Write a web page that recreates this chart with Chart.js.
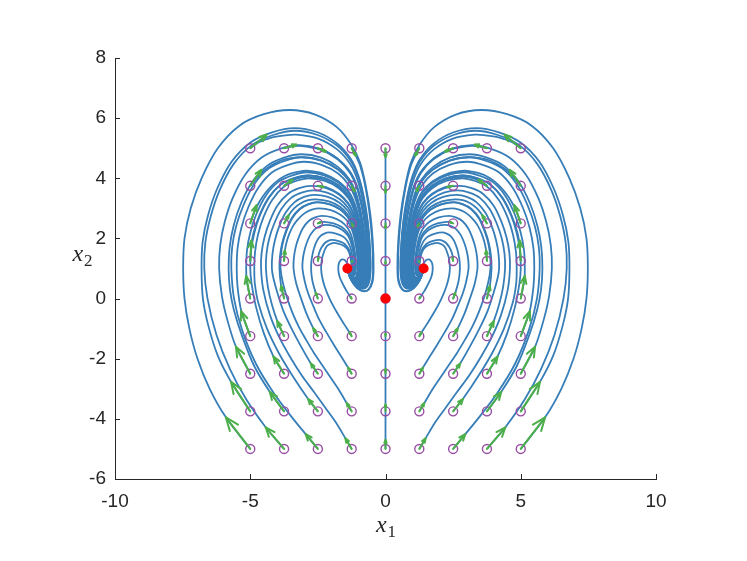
<!DOCTYPE html>
<html>
<head>
<meta charset="utf-8">
<title>Phase portrait</title>
<script src="https://cdn.jsdelivr.net/npm/chart.js@4.4.1/dist/chart.umd.min.js"></script>
<style>
  html, body { margin: 0; padding: 0; background: #fff; }
  #box { width: 747px; height: 561px; }
</style>
</head>
<body>
<div id="box"><canvas id="phase" width="747" height="561"></canvas></div>
<script>
// grid of starting states (purple circles)
const startX = [-5, -3.75, -2.5, -1.25, 0, 1.25, 2.5, 3.75, 5];
const startY = [-5, -3.75, -2.5, -1.25, 0, 1.25, 2.5, 3.75, 5];

// quiver arrows: x and y length at each start, one row per startY value
const arrowU = [
  [-0.9, -0.68, -0.45, -0.23, 0, 0.23, 0.45, 0.68, 0.9],
  [-0.71, -0.53, -0.36, -0.18, 0, 0.18, 0.36, 0.53, 0.71],
  [-0.53, -0.39, -0.26, -0.13, 0, 0.13, 0.26, 0.39, 0.53],
  [-0.34, -0.25, -0.17, -0.08, 0, 0.08, 0.17, 0.25, 0.34],
  [-0.15, -0.11, -0.08, -0.04, 0, 0.04, 0.08, 0.11, 0.15],
  [0.04, 0.03, 0.02, 0.01, 0, -0.01, -0.02, -0.03, -0.04],
  [0.23, 0.17, 0.11, 0.06, 0, -0.06, -0.11, -0.17, -0.23],
  [0.41, 0.31, 0.21, 0.1, 0, -0.1, -0.21, -0.31, -0.41],
  [0.6, 0.45, 0.3, 0.15, 0, -0.15, -0.3, -0.45, -0.6]
];
const arrowV = [
  [1.05, 0.72, 0.49, 0.35, 0.3, 0.35, 0.49, 0.72, 1.05],
  [0.98, 0.65, 0.41, 0.27, 0.23, 0.27, 0.41, 0.65, 0.98],
  [0.9, 0.57, 0.34, 0.2, 0.15, 0.2, 0.34, 0.57, 0.9],
  [0.83, 0.5, 0.26, 0.12, 0.08, 0.12, 0.26, 0.5, 0.83],
  [0.75, 0.42, 0.19, 0.05, 0, 0.05, 0.19, 0.42, 0.75],
  [0.68, 0.35, 0.11, -0.03, -0.08, -0.03, 0.11, 0.35, 0.68],
  [0.6, 0.27, 0.04, -0.1, -0.15, -0.1, 0.04, 0.27, 0.6],
  [0.53, 0.2, -0.04, -0.18, -0.23, -0.18, -0.04, 0.2, 0.53],
  [0.45, 0.12, -0.11, -0.25, -0.3, -0.25, -0.11, 0.12, 0.45]
];

// equilibrium points (red)
const equilibria = [[0, 0], [-1.41, 1], [1.41, 1]];

const xTicks = [-10, -5, 0, 5, 10];
const yTicks = [-6, -4, -2, 0, 2, 4, 6, 8];

// trajectories, flat lists x0,y0,x1,y1,...
const leftPaths = [
  [-5,-5, -5.9,-3.95, -6.5,-3, -6.95,-2, -7.25,-1, -7.43,0, -7.48,1, -7.43,2, -7.2,3, -6.8,4, -6.2,5, -5.4,5.75, -4.5,6.13, -3.54,6.27, -2.6,6.12, -1.8,5.7, -1.25,5.1, -0.93,4.5, -0.72,3.7, -0.56,2.8, -0.47,1.9, -0.44,1, -0.48,0.55, -0.62,0.3, -0.8,0.24, -1.05,0.35, -1.27,0.62, -1.41,1],
  [-5,-3.75, -5.71,-2.77, -6.2,-1.9, -6.55,-0.9, -6.75,0, -6.8,1, -6.76,1.89, -6.56,2.77, -6.22,3.66, -5.69,4.55, -4.98,5.2, -4.19,5.53, -3.37,5.67, -2.52,5.53, -1.79,5.16, -1.28,4.64, -1.0,4.08, -0.8,3.38, -0.66,2.59, -0.58,1.79, -0.55,1, -0.59,0.6, -0.7,0.38, -0.87,0.33, -1.09,0.42, -1.29,0.66, -1.41,1],
  [-3.75,-5, -4.43,-4.28, -5.15,-3.35, -5.75,-2.35, -6.25,-1.2, -6.58,0, -6.7,1, -6.66,1.87, -6.46,2.74, -6.13,3.61, -5.61,4.48, -4.92,5.12, -4.15,5.44, -3.34,5.58, -2.51,5.44, -1.78,5.08, -1.28,4.57, -1.0,4.02, -0.81,3.34, -0.67,2.56, -0.59,1.78, -0.56,1, -0.6,0.61, -0.71,0.39, -0.87,0.34, -1.1,0.43, -1.29,0.67, -1.41,1],
  [-5,-2.5, -5.53,-1.6, -5.85,-0.7, -6.05,0.1, -6.15,1, -6.11,1.78, -5.94,2.56, -5.65,3.34, -5.19,4.12, -4.58,4.69, -3.9,4.98, -3.19,5.1, -2.43,4.98, -1.77,4.65, -1.31,4.2, -1.06,3.71, -0.88,3.09, -0.75,2.39, -0.68,1.7, -0.65,1, -0.69,0.65, -0.79,0.45, -0.93,0.41, -1.13,0.49, -1.3,0.7, -1.41,1],
  [-3.75,-3.75, -4.28,-3.1, -4.85,-2.25, -5.3,-1.25, -5.6,-0.4, -5.75,0.3, -5.8,1, -5.76,1.72, -5.61,2.44, -5.34,3.17, -4.92,3.89, -4.37,4.42, -3.75,4.69, -3.1,4.8, -2.38,4.69, -1.76,4.38, -1.33,3.96, -1.09,3.51, -0.93,2.94, -0.81,2.29, -0.73,1.65, -0.71,1, -0.75,0.68, -0.84,0.5, -0.97,0.45, -1.15,0.53, -1.31,0.73, -1.41,1],
  [-2.5,-5, -2.95,-4.51, -3.45,-3.96, -4.14,-3.13, -4.8,-2.15, -5.3,-1.05, -5.6,0, -5.7,1, -5.67,1.7, -5.52,2.41, -5.25,3.11, -4.85,3.81, -4.31,4.33, -3.7,4.59, -3.07,4.7, -2.37,4.59, -1.75,4.29, -1.33,3.89, -1.1,3.44, -0.93,2.89, -0.81,2.26, -0.74,1.63, -0.72,1, -0.76,0.68, -0.84,0.5, -0.98,0.46, -1.15,0.54, -1.31,0.73, -1.41,1],
  [-5,-1.25, -5.33,-0.42, -5.47,0.4, -5.5,1, -5.47,1.67, -5.33,2.35, -5.08,3.02, -4.69,3.7, -4.19,4.2, -3.62,4.44, -3.02,4.55, -2.34,4.44, -1.75,4.16, -1.35,3.77, -1.12,3.34, -0.96,2.81, -0.85,2.21, -0.78,1.6, -0.76,1, -0.8,0.7, -0.88,0.53, -1.0,0.49, -1.17,0.56, -1.32,0.75, -1.41,1],
  [-5,0, -5.13,0.6, -5.15,1, -5.12,1.61, -4.99,2.22, -4.77,2.82, -4.42,3.43, -3.96,3.88, -3.44,4.1, -2.9,4.2, -2.27,4.1, -1.73,3.85, -1.35,3.5, -1.14,3.11, -0.98,2.63, -0.89,2.09, -0.83,1.54, -0.81,1, -0.85,0.72, -0.92,0.57, -1.03,0.53, -1.19,0.6, -1.33,0.77, -1.41,1],
  [-3.75,-2.5, -4.14,-1.93, -4.5,-1.15, -4.78,-0.3, -4.95,0.5, -5.0,1, -4.97,1.59, -4.85,2.18, -4.64,2.77, -4.3,3.36, -3.87,3.79, -3.37,4.01, -2.86,4.1, -2.25,4.01, -1.73,3.76, -1.37,3.42, -1.16,3.05, -1.02,2.58, -0.92,2.05, -0.86,1.53, -0.84,1, -0.88,0.74, -0.94,0.59, -1.05,0.56, -1.2,0.62, -1.33,0.78, -1.41,1],
  [-2.5,-3.75, -2.86,-3.34, -3.45,-2.55, -3.95,-1.8, -4.38,-1.0, -4.7,-0.15, -4.83,0.5, -4.85,1, -4.82,1.57, -4.71,2.14, -4.51,2.71, -4.19,3.28, -3.78,3.7, -3.31,3.91, -2.83,4.0, -2.24,3.91, -1.73,3.67, -1.37,3.34, -1.18,2.98, -1.04,2.53, -0.94,2.02, -0.88,1.51, -0.86,1, -0.9,0.75, -0.96,0.6, -1.06,0.57, -1.21,0.63, -1.33,0.79, -1.41,1],
  [-1.25,-5, -1.48,-4.65, -1.85,-4.1, -2.25,-3.6, -2.65,-3.1, -3.1,-2.55, -3.52,-1.95, -3.92,-1.3, -4.27,-0.55, -4.52,0.3, -4.6,1, -4.58,1.52, -4.47,2.05, -4.28,2.57, -4.0,3.09, -3.61,3.48, -3.19,3.67, -2.74,3.75, -2.19,3.67, -1.71,3.45, -1.38,3.15, -1.19,2.82, -1.07,2.4, -0.97,1.94, -0.92,1.47, -0.9,1, -0.94,0.77, -0.99,0.63, -1.09,0.6, -1.23,0.66, -1.35,0.8, -1.41,1],
  [-3.75,-1.25, -4.0,-0.75, -4.2,-0.2, -4.35,0.4, -4.42,1, -4.4,1.49, -4.3,1.99, -4.12,2.48, -3.85,2.98, -3.5,3.34, -3.1,3.52, -2.68,3.6, -2.16,3.52, -1.7,3.31, -1.39,3.03, -1.21,2.72, -1.09,2.33, -1.0,1.88, -0.95,1.44, -0.93,1, -0.97,0.78, -1.02,0.65, -1.11,0.63, -1.23,0.68, -1.35,0.81, -1.41,1],
  [-2.5,-2.5, -2.76,-2.16, -3.15,-1.55, -3.5,-0.95, -3.78,-0.4, -4.0,0.2, -4.15,0.7, -4.2,1, -4.18,1.47, -4.09,1.93, -3.93,2.4, -3.69,2.86, -3.37,3.2, -3.01,3.38, -2.63,3.45, -2.13,3.38, -1.69,3.18, -1.39,2.91, -1.23,2.62, -1.11,2.25, -1.03,1.83, -0.98,1.42, -0.96,1, -1.0,0.79, -1.04,0.68, -1.13,0.65, -1.24,0.7, -1.36,0.82, -1.41,1],
  [-3.75,0, -3.86,0.42, -3.92,1, -3.9,1.42, -3.82,1.84, -3.68,2.25, -3.47,2.67, -3.18,2.98, -2.86,3.13, -2.53,3.2, -2.07,3.13, -1.67,2.96, -1.4,2.72, -1.24,2.45, -1.14,2.12, -1.06,1.75, -1.02,1.37, -1.0,1, -1.04,0.81, -1.07,0.7, -1.15,0.68, -1.25,0.73, -1.36,0.84, -1.41,1],
  [-1.25,-3.75, -1.43,-3.48, -1.75,-3.0, -2.05,-2.6, -2.35,-2.2, -2.65,-1.8, -2.95,-1.35, -3.2,-0.95, -3.45,-0.45, -3.65,0.05, -3.8,0.55, -3.88,1, -3.87,1.42, -3.8,1.84, -3.66,2.25, -3.45,2.67, -3.16,2.98, -2.85,3.14, -2.53,3.21, -2.07,3.14, -1.68,2.97, -1.41,2.73, -1.25,2.46, -1.15,2.13, -1.07,1.76, -1.03,1.38, -1.01,1, -1.05,0.82, -1.08,0.71, -1.16,0.69, -1.26,0.74, -1.36,0.84, -1.41,1],
  [-2.5,-1.25, -2.67,-0.99, -2.92,-0.5, -3.12,0, -3.3,0.5, -3.4,1, -3.39,1.33, -3.33,1.67, -3.22,2.0, -3.06,2.33, -2.84,2.58, -2.6,2.7, -2.35,2.75, -1.97,2.7, -1.64,2.56, -1.42,2.37, -1.29,2.16, -1.2,1.89, -1.14,1.6, -1.1,1.3, -1.09,1, -1.12,0.85, -1.15,0.77, -1.21,0.75, -1.29,0.79, -1.37,0.88, -1.41,1],
  [-1.25,-2.5, -1.38,-2.3, -1.62,-1.95, -1.9,-1.55, -2.2,-1.1, -2.45,-0.7, -2.66,-0.27, -2.85,0.15, -2.98,0.55, -3.07,1, -3.06,1.28, -3.01,1.55, -2.92,1.83, -2.79,2.1, -2.61,2.31, -2.42,2.41, -2.21,2.45, -1.89,2.41, -1.61,2.29, -1.42,2.13, -1.31,1.96, -1.24,1.74, -1.18,1.49, -1.15,1.25, -1.14,1, -1.17,0.88, -1.19,0.81, -1.24,0.79, -1.31,0.82, -1.37,0.89, -1.41,1],
  [-2.5,0, -2.58,0.19, -2.68,0.5, -2.73,0.75, -2.75,1, -2.74,1.23, -2.7,1.46, -2.64,1.68, -2.54,1.91, -2.41,2.08, -2.26,2.16, -2.1,2.2, -1.83,2.16, -1.59,2.07, -1.43,1.94, -1.34,1.79, -1.27,1.61, -1.23,1.41, -1.2,1.2, -1.19,1, -1.21,0.9, -1.23,0.84, -1.27,0.83, -1.33,0.85, -1.38,0.91, -1.41,1],
  [-1.25,-1.25, -1.33,-1.13, -1.53,-0.85, -1.81,-0.44, -2.06,-0.02, -2.25,0.4, -2.35,0.75, -2.38,1, -2.37,1.16, -2.35,1.32, -2.3,1.48, -2.23,1.65, -2.14,1.77, -2.03,1.82, -1.92,1.85, -1.72,1.82, -1.55,1.76, -1.42,1.66, -1.36,1.56, -1.31,1.43, -1.28,1.29, -1.26,1.14, -1.25,1, -1.27,0.93, -1.3,0.89, -1.35,0.9, -1.39,0.94, -1.41,1],
  [-1.25,0, -1.31,0.08, -1.43,0.24, -1.53,0.4, -1.62,0.56, -1.69,0.71, -1.73,0.85, -1.745,1, -1.73,1.15, -1.68,1.25, -1.61,1.3, -1.52,1.29, -1.45,1.22, -1.4,1.12, -1.38,1.04, -1.41,1],
  [-5,1.25, -4.96,1.75, -4.88,2.18, -4.66,2.77, -4.32,3.36, -3.88,3.79, -3.38,4.01, -2.86,4.1, -2.25,4.01, -1.72,3.76, -1.36,3.42, -1.15,3.05, -1.01,2.58, -0.91,2.05, -0.85,1.53, -0.83,1, -0.87,0.73, -0.93,0.58, -1.04,0.55, -1.2,0.61, -1.33,0.77, -1.41,1],
  [-5,2.5, -4.85,2.88, -4.66,3.22, -4.45,3.5, -4.22,3.74, -3.98,3.93, -3.74,4.07, -3.45,4.17, -3.2,4.22, -2.92,4.25, -2.28,4.15, -1.73,3.89, -1.35,3.54, -1.14,3.15, -0.99,2.66, -0.88,2.1, -0.82,1.55, -0.8,1, -0.84,0.72, -0.91,0.56, -1.03,0.52, -1.18,0.59, -1.32,0.76, -1.41,1],
  [-5,3.75, -4.72,4.05, -4.43,4.3, -4.13,4.47, -3.84,4.6, -3.5,4.67, -3.07,4.7, -2.37,4.59, -1.75,4.29, -1.33,3.89, -1.1,3.44, -0.93,2.89, -0.81,2.26, -0.74,1.63, -0.72,1, -0.76,0.68, -0.84,0.5, -0.98,0.46, -1.15,0.54, -1.31,0.73, -1.41,1],
  [-5,5, -4.8,5.13, -4.6,5.23, -4.4,5.3, -4.1,5.38, -3.7,5.43, -3.3,5.45, -2.49,5.32, -1.79,4.96, -1.3,4.47, -1.03,3.94, -0.84,3.27, -0.71,2.51, -0.63,1.76, -0.6,1, -0.64,0.63, -0.75,0.42, -0.9,0.37, -1.11,0.46, -1.3,0.68, -1.41,1],
  [-3.75,1.25, -3.72,1.6, -3.65,1.9, -3.55,2.17, -3.42,2.41, -3.27,2.6, -3.1,2.76, -2.92,2.88, -2.72,2.96, -2.45,3.0, -2.02,2.94, -1.65,2.78, -1.39,2.56, -1.25,2.32, -1.15,2.02, -1.08,1.68, -1.03,1.34, -1.02,1, -1.06,0.82, -1.09,0.72, -1.16,0.7, -1.26,0.74, -1.36,0.85, -1.41,1],
  [-3.75,2.5, -3.58,2.77, -3.38,3.0, -3.13,3.17, -2.86,3.27, -2.57,3.3, -2.09,3.23, -1.68,3.05, -1.39,2.79, -1.23,2.52, -1.12,2.17, -1.04,1.78, -0.99,1.39, -0.98,1, -1.02,0.8, -1.06,0.69, -1.14,0.66, -1.25,0.71, -1.36,0.83, -1.41,1],
  [-3.75,3.75, -3.44,3.93, -3.14,4.02, -2.85,4.05, -2.25,3.96, -1.73,3.71, -1.37,3.38, -1.17,3.01, -1.03,2.56, -0.93,2.04, -0.87,1.52, -0.85,1, -0.89,0.74, -0.95,0.6, -1.06,0.56, -1.2,0.62, -1.33,0.78, -1.41,1],
  [-3.75,5, -3.45,5.06, -3.19,5.08, -2.43,4.96, -1.77,4.63, -1.31,4.18, -1.06,3.69, -0.88,3.08, -0.75,2.39, -0.68,1.69, -0.65,1, -0.69,0.65, -0.79,0.45, -0.93,0.41, -1.13,0.49, -1.3,0.7, -1.41,1],
  [-2.5,1.25, -2.48,1.42, -2.43,1.58, -2.35,1.72, -2.25,1.84, -2.12,1.92, -1.98,1.95, -1.76,1.92, -1.56,1.85, -1.43,1.74, -1.35,1.63, -1.3,1.48, -1.26,1.32, -1.24,1.16, -1.23,1, -1.25,0.91, -1.28,0.87, -1.33,0.87, -1.38,0.92, -1.41,1],
  [-2.5,2.5, -2.39,2.54, -2.26,2.55, -1.92,2.5, -1.62,2.38, -1.42,2.21, -1.3,2.02, -1.22,1.79, -1.17,1.53, -1.13,1.26, -1.12,1, -1.15,0.87, -1.17,0.79, -1.23,0.77, -1.3,0.81, -1.37,0.89, -1.41,1],
  [-2.5,3.75, -2.2,3.71, -1.72,3.49, -1.38,3.18, -1.2,2.85, -1.07,2.43, -0.97,1.95, -0.92,1.48, -0.9,1, -0.94,0.77, -0.99,0.63, -1.09,0.6, -1.23,0.66, -1.35,0.8, -1.41,1],
  [-2.5,5, -2.2,4.89, -1.77,4.65, -1.31,4.22, -1.05,3.74, -0.87,3.12, -0.74,2.41, -0.67,1.71, -0.64,1, -0.68,0.65, -0.78,0.45, -0.93,0.4, -1.13,0.48, -1.3,0.7, -1.41,1],
  [-1.25,1.25, -1.24,1.18, -1.26,1.08, -1.31,1.0, -1.37,0.97, -1.41,1],
  [-1.25,2.5, -1.19,2.4, -1.13,2.12, -1.06,1.75, -1.02,1.37, -1.0,1, -1.04,0.81, -1.07,0.7, -1.15,0.68, -1.25,0.73, -1.36,0.84, -1.41,1],
  [-1.25,3.75, -1.15,3.55, -1.0,3.1, -0.88,2.5, -0.79,1.9, -0.74,1.4, -0.72,1, -0.76,0.68, -0.84,0.5, -0.98,0.46, -1.15,0.54, -1.31,0.73, -1.41,1],
  [-1.25,5, -1.1,4.75, -0.93,4.4, -0.75,3.75, -0.6,2.9, -0.5,2.0, -0.46,1, -0.5,0.56, -0.63,0.31, -0.81,0.25, -1.05,0.36, -1.27,0.62, -1.41,1]
];

const rightPaths = [
  [5,-5, 5.9,-3.95, 6.5,-3, 6.95,-2, 7.25,-1, 7.43,0, 7.48,1, 7.43,2, 7.2,3, 6.8,4, 6.2,5, 5.4,5.75, 4.5,6.13, 3.54,6.27, 2.6,6.12, 1.8,5.7, 1.25,5.1, 0.93,4.5, 0.72,3.7, 0.56,2.8, 0.47,1.9, 0.44,1, 0.48,0.55, 0.62,0.3, 0.8,0.24, 1.05,0.35, 1.27,0.62, 1.41,1],
  [5,-3.75, 5.71,-2.77, 6.2,-1.9, 6.55,-0.9, 6.75,0, 6.8,1, 6.76,1.89, 6.56,2.77, 6.22,3.66, 5.69,4.55, 4.98,5.2, 4.19,5.53, 3.37,5.67, 2.52,5.53, 1.79,5.16, 1.28,4.64, 1.0,4.08, 0.8,3.38, 0.66,2.59, 0.58,1.79, 0.55,1, 0.59,0.6, 0.7,0.38, 0.87,0.33, 1.09,0.42, 1.29,0.66, 1.41,1],
  [3.75,-5, 4.43,-4.28, 5.15,-3.35, 5.75,-2.35, 6.25,-1.2, 6.58,0, 6.7,1, 6.66,1.87, 6.46,2.74, 6.13,3.61, 5.61,4.48, 4.92,5.12, 4.15,5.44, 3.34,5.58, 2.51,5.44, 1.78,5.08, 1.28,4.57, 1.0,4.02, 0.81,3.34, 0.67,2.56, 0.59,1.78, 0.56,1, 0.6,0.61, 0.71,0.39, 0.87,0.34, 1.1,0.43, 1.29,0.67, 1.41,1],
  [5,-2.5, 5.53,-1.6, 5.85,-0.7, 6.05,0.1, 6.15,1, 6.11,1.78, 5.94,2.56, 5.65,3.34, 5.19,4.12, 4.58,4.69, 3.9,4.98, 3.19,5.1, 2.43,4.98, 1.77,4.65, 1.31,4.2, 1.06,3.71, 0.88,3.09, 0.75,2.39, 0.68,1.7, 0.65,1, 0.69,0.65, 0.79,0.45, 0.93,0.41, 1.13,0.49, 1.3,0.7, 1.41,1],
  [3.75,-3.75, 4.28,-3.1, 4.85,-2.25, 5.3,-1.25, 5.6,-0.4, 5.75,0.3, 5.8,1, 5.76,1.72, 5.61,2.44, 5.34,3.17, 4.92,3.89, 4.37,4.42, 3.75,4.69, 3.1,4.8, 2.38,4.69, 1.76,4.38, 1.33,3.96, 1.09,3.51, 0.93,2.94, 0.81,2.29, 0.73,1.65, 0.71,1, 0.75,0.68, 0.84,0.5, 0.97,0.45, 1.15,0.53, 1.31,0.73, 1.41,1],
  [2.5,-5, 2.95,-4.51, 3.45,-3.96, 4.14,-3.13, 4.8,-2.15, 5.3,-1.05, 5.6,0, 5.7,1, 5.67,1.7, 5.52,2.41, 5.25,3.11, 4.85,3.81, 4.31,4.33, 3.7,4.59, 3.07,4.7, 2.37,4.59, 1.75,4.29, 1.33,3.89, 1.1,3.44, 0.93,2.89, 0.81,2.26, 0.74,1.63, 0.72,1, 0.76,0.68, 0.84,0.5, 0.98,0.46, 1.15,0.54, 1.31,0.73, 1.41,1],
  [5,-1.25, 5.33,-0.42, 5.47,0.4, 5.5,1, 5.47,1.67, 5.33,2.35, 5.08,3.02, 4.69,3.7, 4.19,4.2, 3.62,4.44, 3.02,4.55, 2.34,4.44, 1.75,4.16, 1.35,3.77, 1.12,3.34, 0.96,2.81, 0.85,2.21, 0.78,1.6, 0.76,1, 0.8,0.7, 0.88,0.53, 1.0,0.49, 1.17,0.56, 1.32,0.75, 1.41,1],
  [5,0, 5.13,0.6, 5.15,1, 5.12,1.61, 4.99,2.22, 4.77,2.82, 4.42,3.43, 3.96,3.88, 3.44,4.1, 2.9,4.2, 2.27,4.1, 1.73,3.85, 1.35,3.5, 1.14,3.11, 0.98,2.63, 0.89,2.09, 0.83,1.54, 0.81,1, 0.85,0.72, 0.92,0.57, 1.03,0.53, 1.19,0.6, 1.33,0.77, 1.41,1],
  [3.75,-2.5, 4.14,-1.93, 4.5,-1.15, 4.78,-0.3, 4.95,0.5, 5.0,1, 4.97,1.59, 4.85,2.18, 4.64,2.77, 4.3,3.36, 3.87,3.79, 3.37,4.01, 2.86,4.1, 2.25,4.01, 1.73,3.76, 1.37,3.42, 1.16,3.05, 1.02,2.58, 0.92,2.05, 0.86,1.53, 0.84,1, 0.88,0.74, 0.94,0.59, 1.05,0.56, 1.2,0.62, 1.33,0.78, 1.41,1],
  [2.5,-3.75, 2.86,-3.34, 3.45,-2.55, 3.95,-1.8, 4.38,-1.0, 4.7,-0.15, 4.83,0.5, 4.85,1, 4.82,1.57, 4.71,2.14, 4.51,2.71, 4.19,3.28, 3.78,3.7, 3.31,3.91, 2.83,4.0, 2.24,3.91, 1.73,3.67, 1.37,3.34, 1.18,2.98, 1.04,2.53, 0.94,2.02, 0.88,1.51, 0.86,1, 0.9,0.75, 0.96,0.6, 1.06,0.57, 1.21,0.63, 1.33,0.79, 1.41,1],
  [1.25,-5, 1.48,-4.65, 1.85,-4.1, 2.25,-3.6, 2.65,-3.1, 3.1,-2.55, 3.52,-1.95, 3.92,-1.3, 4.27,-0.55, 4.52,0.3, 4.6,1, 4.58,1.52, 4.47,2.05, 4.28,2.57, 4.0,3.09, 3.61,3.48, 3.19,3.67, 2.74,3.75, 2.19,3.67, 1.71,3.45, 1.38,3.15, 1.19,2.82, 1.07,2.4, 0.97,1.94, 0.92,1.47, 0.9,1, 0.94,0.77, 0.99,0.63, 1.09,0.6, 1.23,0.66, 1.35,0.8, 1.41,1],
  [3.75,-1.25, 4.0,-0.75, 4.2,-0.2, 4.35,0.4, 4.42,1, 4.4,1.49, 4.3,1.99, 4.12,2.48, 3.85,2.98, 3.5,3.34, 3.1,3.52, 2.68,3.6, 2.16,3.52, 1.7,3.31, 1.39,3.03, 1.21,2.72, 1.09,2.33, 1.0,1.88, 0.95,1.44, 0.93,1, 0.97,0.78, 1.02,0.65, 1.11,0.63, 1.23,0.68, 1.35,0.81, 1.41,1],
  [2.5,-2.5, 2.76,-2.16, 3.15,-1.55, 3.5,-0.95, 3.78,-0.4, 4.0,0.2, 4.15,0.7, 4.2,1, 4.18,1.47, 4.09,1.93, 3.93,2.4, 3.69,2.86, 3.37,3.2, 3.01,3.38, 2.63,3.45, 2.13,3.38, 1.69,3.18, 1.39,2.91, 1.23,2.62, 1.11,2.25, 1.03,1.83, 0.98,1.42, 0.96,1, 1.0,0.79, 1.04,0.68, 1.13,0.65, 1.24,0.7, 1.36,0.82, 1.41,1],
  [3.75,0, 3.86,0.42, 3.92,1, 3.9,1.42, 3.82,1.84, 3.68,2.25, 3.47,2.67, 3.18,2.98, 2.86,3.13, 2.53,3.2, 2.07,3.13, 1.67,2.96, 1.4,2.72, 1.24,2.45, 1.14,2.12, 1.06,1.75, 1.02,1.37, 1.0,1, 1.04,0.81, 1.07,0.7, 1.15,0.68, 1.25,0.73, 1.36,0.84, 1.41,1],
  [1.25,-3.75, 1.43,-3.48, 1.75,-3.0, 2.05,-2.6, 2.35,-2.2, 2.65,-1.8, 2.95,-1.35, 3.2,-0.95, 3.45,-0.45, 3.65,0.05, 3.8,0.55, 3.88,1, 3.87,1.42, 3.8,1.84, 3.66,2.25, 3.45,2.67, 3.16,2.98, 2.85,3.14, 2.53,3.21, 2.07,3.14, 1.68,2.97, 1.41,2.73, 1.25,2.46, 1.15,2.13, 1.07,1.76, 1.03,1.38, 1.01,1, 1.05,0.82, 1.08,0.71, 1.16,0.69, 1.26,0.74, 1.36,0.84, 1.41,1],
  [2.5,-1.25, 2.67,-0.99, 2.92,-0.5, 3.12,0, 3.3,0.5, 3.4,1, 3.39,1.33, 3.33,1.67, 3.22,2.0, 3.06,2.33, 2.84,2.58, 2.6,2.7, 2.35,2.75, 1.97,2.7, 1.64,2.56, 1.42,2.37, 1.29,2.16, 1.2,1.89, 1.14,1.6, 1.1,1.3, 1.09,1, 1.12,0.85, 1.15,0.77, 1.21,0.75, 1.29,0.79, 1.37,0.88, 1.41,1],
  [1.25,-2.5, 1.38,-2.3, 1.62,-1.95, 1.9,-1.55, 2.2,-1.1, 2.45,-0.7, 2.66,-0.27, 2.85,0.15, 2.98,0.55, 3.07,1, 3.06,1.28, 3.01,1.55, 2.92,1.83, 2.79,2.1, 2.61,2.31, 2.42,2.41, 2.21,2.45, 1.89,2.41, 1.61,2.29, 1.42,2.13, 1.31,1.96, 1.24,1.74, 1.18,1.49, 1.15,1.25, 1.14,1, 1.17,0.88, 1.19,0.81, 1.24,0.79, 1.31,0.82, 1.37,0.89, 1.41,1],
  [2.5,0, 2.58,0.19, 2.68,0.5, 2.73,0.75, 2.75,1, 2.74,1.23, 2.7,1.46, 2.64,1.68, 2.54,1.91, 2.41,2.08, 2.26,2.16, 2.1,2.2, 1.83,2.16, 1.59,2.07, 1.43,1.94, 1.34,1.79, 1.27,1.61, 1.23,1.41, 1.2,1.2, 1.19,1, 1.21,0.9, 1.23,0.84, 1.27,0.83, 1.33,0.85, 1.38,0.91, 1.41,1],
  [1.25,-1.25, 1.33,-1.13, 1.53,-0.85, 1.81,-0.44, 2.06,-0.02, 2.25,0.4, 2.35,0.75, 2.38,1, 2.37,1.16, 2.35,1.32, 2.3,1.48, 2.23,1.65, 2.14,1.77, 2.03,1.82, 1.92,1.85, 1.72,1.82, 1.55,1.76, 1.42,1.66, 1.36,1.56, 1.31,1.43, 1.28,1.29, 1.26,1.14, 1.25,1, 1.27,0.93, 1.3,0.89, 1.35,0.9, 1.39,0.94, 1.41,1],
  [1.25,0, 1.31,0.08, 1.43,0.24, 1.53,0.4, 1.62,0.56, 1.69,0.71, 1.73,0.85, 1.745,1, 1.73,1.15, 1.68,1.25, 1.61,1.3, 1.52,1.29, 1.45,1.22, 1.4,1.12, 1.38,1.04, 1.41,1],
  [5,1.25, 4.96,1.75, 4.88,2.18, 4.66,2.77, 4.32,3.36, 3.88,3.79, 3.38,4.01, 2.86,4.1, 2.25,4.01, 1.72,3.76, 1.36,3.42, 1.15,3.05, 1.01,2.58, 0.91,2.05, 0.85,1.53, 0.83,1, 0.87,0.73, 0.93,0.58, 1.04,0.55, 1.2,0.61, 1.33,0.77, 1.41,1],
  [5,2.5, 4.85,2.88, 4.66,3.22, 4.45,3.5, 4.22,3.74, 3.98,3.93, 3.74,4.07, 3.45,4.17, 3.2,4.22, 2.92,4.25, 2.28,4.15, 1.73,3.89, 1.35,3.54, 1.14,3.15, 0.99,2.66, 0.88,2.1, 0.82,1.55, 0.8,1, 0.84,0.72, 0.91,0.56, 1.03,0.52, 1.18,0.59, 1.32,0.76, 1.41,1],
  [5,3.75, 4.72,4.05, 4.43,4.3, 4.13,4.47, 3.84,4.6, 3.5,4.67, 3.07,4.7, 2.37,4.59, 1.75,4.29, 1.33,3.89, 1.1,3.44, 0.93,2.89, 0.81,2.26, 0.74,1.63, 0.72,1, 0.76,0.68, 0.84,0.5, 0.98,0.46, 1.15,0.54, 1.31,0.73, 1.41,1],
  [5,5, 4.8,5.13, 4.6,5.23, 4.4,5.3, 4.1,5.38, 3.7,5.43, 3.3,5.45, 2.49,5.32, 1.79,4.96, 1.3,4.47, 1.03,3.94, 0.84,3.27, 0.71,2.51, 0.63,1.76, 0.6,1, 0.64,0.63, 0.75,0.42, 0.9,0.37, 1.11,0.46, 1.3,0.68, 1.41,1],
  [3.75,1.25, 3.72,1.6, 3.65,1.9, 3.55,2.17, 3.42,2.41, 3.27,2.6, 3.1,2.76, 2.92,2.88, 2.72,2.96, 2.45,3.0, 2.02,2.94, 1.65,2.78, 1.39,2.56, 1.25,2.32, 1.15,2.02, 1.08,1.68, 1.03,1.34, 1.02,1, 1.06,0.82, 1.09,0.72, 1.16,0.7, 1.26,0.74, 1.36,0.85, 1.41,1],
  [3.75,2.5, 3.58,2.77, 3.38,3.0, 3.13,3.17, 2.86,3.27, 2.57,3.3, 2.09,3.23, 1.68,3.05, 1.39,2.79, 1.23,2.52, 1.12,2.17, 1.04,1.78, 0.99,1.39, 0.98,1, 1.02,0.8, 1.06,0.69, 1.14,0.66, 1.25,0.71, 1.36,0.83, 1.41,1],
  [3.75,3.75, 3.44,3.93, 3.14,4.02, 2.85,4.05, 2.25,3.96, 1.73,3.71, 1.37,3.38, 1.17,3.01, 1.03,2.56, 0.93,2.04, 0.87,1.52, 0.85,1, 0.89,0.74, 0.95,0.6, 1.06,0.56, 1.2,0.62, 1.33,0.78, 1.41,1],
  [3.75,5, 3.45,5.06, 3.19,5.08, 2.43,4.96, 1.77,4.63, 1.31,4.18, 1.06,3.69, 0.88,3.08, 0.75,2.39, 0.68,1.69, 0.65,1, 0.69,0.65, 0.79,0.45, 0.93,0.41, 1.13,0.49, 1.3,0.7, 1.41,1],
  [2.5,1.25, 2.48,1.42, 2.43,1.58, 2.35,1.72, 2.25,1.84, 2.12,1.92, 1.98,1.95, 1.76,1.92, 1.56,1.85, 1.43,1.74, 1.35,1.63, 1.3,1.48, 1.26,1.32, 1.24,1.16, 1.23,1, 1.25,0.91, 1.28,0.87, 1.33,0.87, 1.38,0.92, 1.41,1],
  [2.5,2.5, 2.39,2.54, 2.26,2.55, 1.92,2.5, 1.62,2.38, 1.42,2.21, 1.3,2.02, 1.22,1.79, 1.17,1.53, 1.13,1.26, 1.12,1, 1.15,0.87, 1.17,0.79, 1.23,0.77, 1.3,0.81, 1.37,0.89, 1.41,1],
  [2.5,3.75, 2.2,3.71, 1.72,3.49, 1.38,3.18, 1.2,2.85, 1.07,2.43, 0.97,1.95, 0.92,1.48, 0.9,1, 0.94,0.77, 0.99,0.63, 1.09,0.6, 1.23,0.66, 1.35,0.8, 1.41,1],
  [2.5,5, 2.2,4.89, 1.77,4.65, 1.31,4.22, 1.05,3.74, 0.87,3.12, 0.74,2.41, 0.67,1.71, 0.64,1, 0.68,0.65, 0.78,0.45, 0.93,0.4, 1.13,0.48, 1.3,0.7, 1.41,1],
  [1.25,1.25, 1.24,1.18, 1.26,1.08, 1.31,1.0, 1.37,0.97, 1.41,1],
  [1.25,2.5, 1.19,2.4, 1.13,2.12, 1.06,1.75, 1.02,1.37, 1.0,1, 1.04,0.81, 1.07,0.7, 1.15,0.68, 1.25,0.73, 1.36,0.84, 1.41,1],
  [1.25,3.75, 1.15,3.55, 1.0,3.1, 0.88,2.5, 0.79,1.9, 0.74,1.4, 0.72,1, 0.76,0.68, 0.84,0.5, 0.98,0.46, 1.15,0.54, 1.31,0.73, 1.41,1],
  [1.25,5, 1.1,4.75, 0.93,4.4, 0.75,3.75, 0.6,2.9, 0.5,2.0, 0.46,1, 0.5,0.56, 0.63,0.31, 0.81,0.25, 1.05,0.36, 1.27,0.62, 1.41,1]
];

// the x1 = 0 column stays on the axis
const centrePath = [0,-5, 0,5];

const blue = '#377eb8';
const green = '#4daf4a';
const purple = '#984ea3';
const red = '#ff0000';
const axisColor = '#262626';

function toPoints(flat) {
  const pts = [];
  for (let i = 0; i < flat.length; i += 2) {
    pts.push({ x: flat[i], y: flat[i + 1] });
  }
  return pts;
}

const starts = [];
startY.forEach(y => startX.forEach(x => starts.push({ x: x, y: y })));

const pathSets = leftPaths.concat(rightPaths, [centrePath]).map(p => ({
  label: 'path',
  data: toPoints(p),
  showLine: true,
  borderColor: blue,
  borderWidth: 1.8,
  pointRadius: 0,
  tension: 0.3,
  fill: false,
  order: 2
}));

// quiver arrows drawn right after the start circles
const quiverPlugin = {
  id: 'quiver',
  afterDatasetDraw(chart, args) {
    if (chart.data.datasets[args.index].label !== 'starts') return;
    const ctx = chart.ctx;
    const xs = chart.scales.x, ys = chart.scales.y;
    ctx.save();
    ctx.strokeStyle = green;
    ctx.fillStyle = green;
    ctx.lineWidth = 2;
    ctx.lineCap = 'round';
    ctx.lineJoin = 'round';
    startY.forEach((sy, r) => {
      startX.forEach((sx, c) => {
        const u = arrowU[r][c], v = arrowV[r][c];
        if (u === 0 && v === 0) return;
        const x0 = xs.getPixelForValue(sx), y0 = ys.getPixelForValue(sy);
        const x1 = xs.getPixelForValue(sx + u), y1 = ys.getPixelForValue(sy + v);
        const dx = x1 - x0, dy = y1 - y0;
        const len = Math.hypot(dx, dy);
        const ux = dx / len, uy = dy / len;
        const back = 0.33 * len, side = 0.13 * len;
        ctx.beginPath();
        ctx.moveTo(x0, y0);
        ctx.lineTo(x1, y1);
        ctx.stroke();
        ctx.beginPath();
        ctx.moveTo(x1 - back * ux + side * uy, y1 - back * uy - side * ux);
        ctx.lineTo(x1, y1);
        ctx.lineTo(x1 - back * ux - side * uy, y1 - back * uy + side * ux);
        ctx.stroke();
      });
    });
    ctx.restore();
  }
};

function subLabel(ctx, base, sub, cx, baseline) {
  ctx.font = 'italic 24px "Liberation Serif", "DejaVu Serif", serif';
  const wb = ctx.measureText(base).width;
  ctx.font = '17px "Liberation Serif", "DejaVu Serif", serif';
  const ws = ctx.measureText(sub).width;
  const left = cx - (wb + ws) / 2;
  ctx.textAlign = 'left';
  ctx.textBaseline = 'alphabetic';
  ctx.font = 'italic 24px "Liberation Serif", "DejaVu Serif", serif';
  ctx.fillText(base, left, baseline);
  ctx.font = '17px "Liberation Serif", "DejaVu Serif", serif';
  ctx.fillText(sub, left + wb + 1, baseline + 5);
}

// inward tick marks and the two axis titles
const axisPlugin = {
  id: 'axisExtras',
  afterDraw(chart) {
    const ctx = chart.ctx;
    const a = chart.chartArea;
    const xs = chart.scales.x, ys = chart.scales.y;
    ctx.save();
    ctx.strokeStyle = axisColor;
    ctx.lineWidth = 1;
    ctx.beginPath();
    xTicks.forEach(v => {
      const p = Math.round(xs.getPixelForValue(v)) + 0.5;
      ctx.moveTo(p, a.bottom);
      ctx.lineTo(p, a.bottom - 5);
    });
    yTicks.forEach(v => {
      const p = Math.round(ys.getPixelForValue(v)) + 0.5;
      ctx.moveTo(a.left, p);
      ctx.lineTo(a.left + 5, p);
    });
    ctx.stroke();
    ctx.fillStyle = axisColor;
    subLabel(ctx, 'x', '1', (a.left + a.right) / 2, a.bottom + 53);
    subLabel(ctx, 'x', '2', a.left - 33, (a.top + a.bottom) / 2 - 8);
    ctx.restore();
  }
};

const tickFont = { family: '"Liberation Sans", Arial, sans-serif', size: 19 };

new Chart(document.getElementById('phase'), {
  type: 'scatter',
  data: {
    datasets: [
      {
        label: 'equilibria',
        data: equilibria.map(p => ({ x: p[0], y: p[1] })),
        pointRadius: 5,
        pointBackgroundColor: red,
        pointBorderWidth: 0,
        order: 0
      },
      {
        label: 'starts',
        data: starts,
        pointRadius: 4.5,
        pointBorderColor: purple,
        pointBackgroundColor: 'rgba(0,0,0,0)',
        pointBorderWidth: 1.4,
        order: 1
      }
    ].concat(pathSets)
  },
  options: {
    responsive: false,
    animation: false,
    layout: { padding: { left: 0, right: 91, top: 58, bottom: 0 } },
    plugins: {
      legend: { display: false },
      tooltip: { enabled: false }
    },
    scales: {
      x: {
        type: 'linear',
        min: -10,
        max: 10,
        afterBuildTicks: axis => { axis.ticks = xTicks.map(v => ({ value: v })); },
        afterFit: axis => { axis.height = 82; },
        grid: { display: false, drawTicks: false },
        border: { display: true, color: axisColor, width: 1 },
        ticks: { color: axisColor, font: tickFont, padding: 11, maxRotation: 0 }
      },
      y: {
        type: 'linear',
        min: -6,
        max: 8,
        afterBuildTicks: axis => { axis.ticks = yTicks.map(v => ({ value: v })); },
        afterFit: axis => { axis.width = 115; },
        grid: { display: false, drawTicks: false },
        border: { display: true, color: axisColor, width: 1 },
        ticks: { color: axisColor, font: tickFont, padding: 9 }
      }
    }
  },
  plugins: [quiverPlugin, axisPlugin]
});
</script>
</body>
</html>
